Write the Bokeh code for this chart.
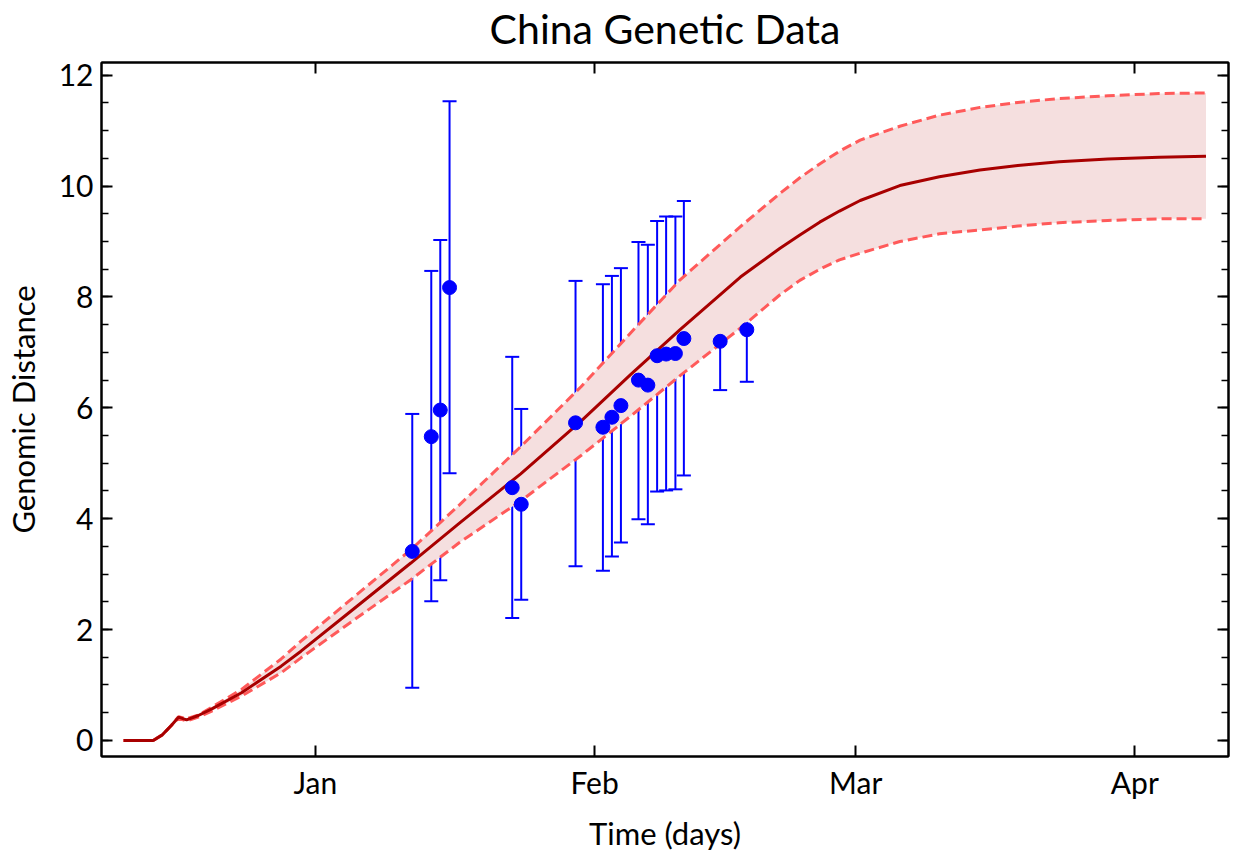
from bokeh.plotting import figure
from bokeh.models import (LinearAxis, FixedTicker, SingleIntervalTicker, Range1d,
                          Whisker, TeeHead, ColumnDataSource)
from bokeh.embed import file_html
from bokeh.resources import INLINE

# ---- data (x = days since 1 Jan 2020) ----
month_days = [0, 31, 60, 91]
month_labels = ["Jan", "Feb", "Mar", "Apr"]

obs_day = [10.76, 12.87, 13.87, 14.90, 21.86, 22.86, 28.89, 31.93, 32.93, 33.93,
           35.88, 36.92, 37.95, 38.95, 39.98, 40.92, 44.95, 47.91]
obs_val = [3.41, 5.48, 5.96, 8.17, 4.56, 4.26, 5.73, 5.65, 5.83, 6.04,
           6.50, 6.41, 6.94, 6.97, 6.98, 7.25, 7.20, 7.41]
obs_hi = [5.89, 8.47, 9.03, 11.53, 6.92, 5.98, 8.29, 8.23, 8.38, 8.52,
          8.99, 8.94, 9.37, 9.45, 9.45, 9.73, 8.05, 8.34]
obs_lo = [0.95, 2.51, 2.89, 4.82, 2.21, 2.54, 3.14, 3.06, 3.32, 3.57,
          3.99, 3.90, 4.49, 4.51, 4.53, 4.78, 6.32, 6.47]

fit_day = [-21.3, -18.0, -17.0, -16.0, -15.2, -14.3, -13.0, -11.5, -8.2, -3.8,
           -1.6, 4.0, 10.6, 16.0, 22.8, 29.5, 35.0, 40.5, 47.2, 51.6,
           53.8, 56.0, 58.2, 60.5, 64.9, 69.3, 73.8, 78.0, 82.6, 88.0, 93.7, 98.9]
fit_mean = [0.0, 0.0, 0.10, 0.27, 0.42, 0.37, 0.45, 0.57, 0.86, 1.34,
            1.61, 2.34, 3.20, 3.92, 4.81, 5.76, 6.60, 7.41, 8.36, 8.88,
            9.12, 9.35, 9.55, 9.74, 10.01, 10.17, 10.29, 10.37, 10.44, 10.49, 10.52, 10.54]
fit_upper = [0.0, 0.0, 0.10, 0.27, 0.43, 0.39, 0.46, 0.60, 0.92, 1.47,
             1.79, 2.55, 3.44, 4.25, 5.30, 6.38, 7.35, 8.31, 9.27, 9.87,
             10.15, 10.40, 10.63, 10.83, 11.08, 11.28, 11.42, 11.51, 11.58, 11.63, 11.67, 11.68]
fit_lower = [0.0, 0.0, 0.10, 0.27, 0.40, 0.35, 0.42, 0.53, 0.80, 1.22,
             1.49, 2.14, 2.90, 3.57, 4.32, 5.14, 5.85, 6.58, 7.44, 8.04,
             8.30, 8.50, 8.67, 8.79, 9.00, 9.14, 9.21, 9.28, 9.34, 9.38, 9.41, 9.41]

TITLE = "China Genetic Data"
FONT = "Lato"

p = figure(width=1234, height=854, output_backend="svg", toolbar_location=None,
           x_range=Range1d(-23.75, 101.4), y_range=Range1d(-0.29, 12.23),
           min_border_left=100, min_border_right=6, min_border_top=62,
           min_border_bottom=97)
p.background_fill_color = "white"
p.border_fill_color = "white"
p.xgrid.visible = False
p.ygrid.visible = False
p.outline_line_color = "black"
p.outline_line_width = 2

xt = FixedTicker(ticks=month_days, minor_ticks=[])
yt = SingleIntervalTicker(interval=2, num_minor_ticks=4)

def style(ax):
    ax.axis_line_color = "black"
    ax.axis_line_width = 2
    ax.major_tick_in = 11
    ax.major_tick_out = 0
    ax.minor_tick_in = 7
    ax.minor_tick_out = 0
    ax.major_tick_line_width = 2
    ax.minor_tick_line_width = 1.5
    ax.major_tick_line_color = "black"
    ax.minor_tick_line_color = "black"
    ax.major_label_text_font = FONT
    ax.major_label_text_font_size = "30px"
    ax.major_label_text_color = "black"
    ax.axis_label_text_font = FONT
    ax.axis_label_text_font_size = "31px"
    ax.axis_label_text_font_style = "normal"
    ax.axis_label_text_color = "black"

xa = p.xaxis[0]
xa.ticker = xt
xa.major_label_overrides = {d: m for d, m in zip(month_days, month_labels)}
xa.axis_label = "Time (days)"
style(xa)
xa.major_label_standoff = 7
xa.axis_label_standoff = 11

ya = p.yaxis[0]
ya.ticker = yt
ya.axis_label = "Genomic Distance"
style(ya)
ya.major_label_standoff = 8
ya.axis_label_standoff = 14

# top axis: mirrored ticks, carries the chart title as its label
top = LinearAxis(ticker=FixedTicker(ticks=month_days, minor_ticks=[]))
style(top)
top.major_label_overrides = {d: "" for d in month_days}
top.major_label_text_font_size = "1px"
top.major_label_standoff = 0
top.axis_label = TITLE
top.axis_label_text_font_size = "41px"
top.axis_label_standoff = 10
p.add_layout(top, "above")

right = LinearAxis(ticker=SingleIntervalTicker(interval=2, num_minor_ticks=4))
style(right)
right.major_label_overrides = {v: "" for v in range(0, 14, 2)}
right.major_label_text_font_size = "1px"
right.major_label_standoff = 0
p.add_layout(right, "right")

# band and curves
p.varea(x=fit_day, y1=fit_lower, y2=fit_upper, fill_color="#f5dfdf")
p.line(fit_day, fit_upper, line_color="#ff5a5a", line_width=3, line_dash="10 5")
p.line(fit_day, fit_lower, line_color="#ff5a5a", line_width=3, line_dash="10 5")
p.line(fit_day, fit_mean, line_color="#a80000", line_width=3)

src = ColumnDataSource(dict(x=obs_day, y=obs_val, hi=obs_hi, lo=obs_lo))
wh = Whisker(source=src, base="x", upper="hi", lower="lo",
             line_color="#0000ff", line_width=2,
             upper_head=TeeHead(size=14, line_color="#0000ff", line_width=2),
             lower_head=TeeHead(size=14, line_color="#0000ff", line_width=2))
p.add_layout(wh)
p.scatter("x", "y", source=src, size=14, fill_color="#0000ff", line_color="#0000ff")

open("out.html", "w").write(file_html(p, INLINE))
